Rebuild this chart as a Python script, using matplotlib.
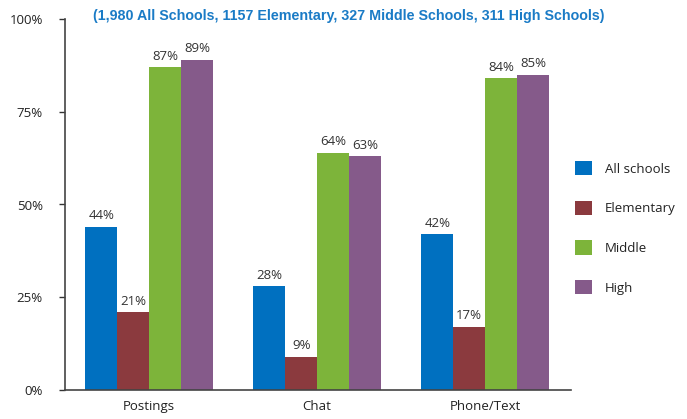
import numpy as np
import matplotlib.pyplot as plt

categories = ['Postings', 'Chat', 'Phone/Text']
series = ['All schools', 'Elementary', 'Middle', 'High']
all_schools = [44, 28, 42]
elementary = [21, 9, 17]
middle = [87, 64, 84]
high = [89, 63, 85]
colors = ['#0070c0', '#8b3a3e', '#7db43a', '#855a8a']

plt.rcParams['font.family'] = ['Open Sans', 'DejaVu Sans']

fig = plt.figure(figsize=(6.87, 4.19), dpi=100)
ax = fig.add_axes([65 / 687, 29 / 419, 506 / 687, 371 / 419])

x = np.arange(len(categories))
w = 0.19
for i, (name, vals) in enumerate(zip(series, [all_schools, elementary, middle, high])):
    pos = x + (i - 1.5) * w
    ax.bar(pos, vals, w, color=colors[i], label=name)
    for p, v in zip(pos, vals):
        ax.text(p, v + 1.2, f'{v}%', ha='center', va='bottom', fontsize=9.5, color='#333333')

ax.set_xlim(-0.5, 2.51)
ax.set_ylim(0, 100)
ax.set_yticks([0, 25, 50, 75, 100])
ax.set_yticklabels(['0%', '25%', '50%', '75%', '100%'])
ax.set_xticks(x)
ax.set_xticklabels(categories)
ax.tick_params(axis='x', length=0, pad=7, labelsize=9.5, colors='#222222')
ax.tick_params(axis='y', length=4, width=1, pad=12, labelsize=9.5, colors='#222222')
ax.tick_params(axis='y', color='#333333')
for s in ['top', 'right']:
    ax.spines[s].set_visible(False)
for s in ['left', 'bottom']:
    ax.spines[s].set_color('#444444')
    ax.spines[s].set_linewidth(1.2)

ax.legend(loc='center left', bbox_to_anchor=(0.984, 0.437), frameon=False, fontsize=9.5,
          handlelength=1.3, handleheight=1.3, labelspacing=1.9, handletextpad=1.0,
          labelcolor='#222222')

fig.text(0.507, 0.962, '(1,980 All Schools, 1157 Elementary, 327 Middle Schools, 311 High Schools)',
         ha='center', va='center', fontsize=10.3, fontweight='bold', color='#1a7bc6',
         family='Liberation Sans')

fig.savefig('out.png', dpi=100)
